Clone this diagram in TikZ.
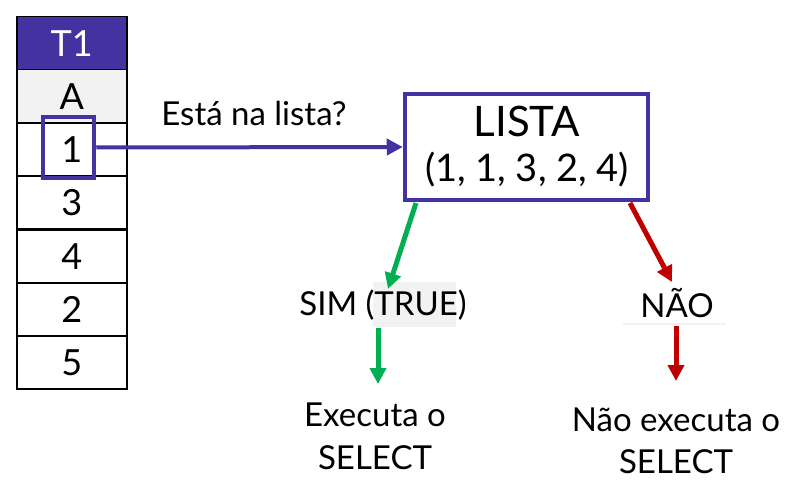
\documentclass[tikz,border=0pt]{standalone}
\usepackage{fontspec}
\setmainfont{Lato}
\usetikzlibrary{arrows.meta,calc}
\definecolor{pur}{RGB}{67,50,160}
\definecolor{grn}{RGB}{0,176,80}
\definecolor{rd}{RGB}{192,0,0}
\definecolor{lgrey}{RGB}{242,242,242}
\tikzset{
  cell/.style={draw=black, line width=1.5pt, minimum width=110pt, minimum height=53pt, inner sep=0pt, font=\fontsize{36}{40}\selectfont, anchor=north west},
  txt/.style={font=\fontsize{33}{38}\selectfont, inner sep=0pt, align=center},
  tip/.style={-{Triangle[length=16pt,width=16pt]}},
}
\begin{document}
\begin{tikzpicture}[x=1pt,y=-1pt]
\useasboundingbox (0,0) rectangle (793,495);
% table
\node[cell, fill=pur, text=white] (h) at (16,16) {T1};
\node[cell, fill=lgrey] (ca) at (16,69) {A};
\node[cell] (c1) at (16,122) {1};
\node[cell] (c2) at (16,175) {3};
\node[cell] (c3) at (16,229) {4};
\node[cell] (c4) at (16,282) {2};
\node[cell] (c5) at (16,335) {5};
% highlight
\node[draw=pur, line width=4.5pt, minimum width=51pt, minimum height=61pt, inner sep=0pt] (hl) at (68.5,147.5) {};
% lista
\node[draw=pur, line width=4.5pt, minimum width=243pt, minimum height=106pt, inner sep=0pt] (lista) at (526.5,147) {};
\node[txt, font=\fontsize{42}{46}\selectfont] (lt) at (527,121) {LISTA};
\node[txt, font=\fontsize{38}{42}\selectfont] (lv) at (527,170) {(1, 1, 3, 2, 4)};
\draw[pur, line width=4pt, tip] (hl.east) -- (lista.west);
\node[txt] (q) at (254,113) {Está na lista?};
% SIM
\node[fill=lgrey, minimum width=83pt, minimum height=45pt, inner sep=0pt] (truebg) at (414.5,304.5) {};
\node[txt] (sim) at (383,305) {SIM (TRUE)};
% NAO
\node[txt] (nao) at (677,303) {NÃO};
\coordinate (ul1) at (623,324);
\coordinate (ul2) at (726,324);
\draw[lgrey, line width=2.5pt] (ul1) -- (ul2);
% results
\node[txt] (ex1) at (375,415) {Executa o};
\node[txt] (ex2) at (375,458) {SELECT};
\node[txt] (nx1) at (676,420) {Não executa o};
\node[txt] (nx2) at (676,462) {SELECT};
% arrows
\coordinate (gs) at (416,203);
\coordinate (ge) at (388,289);
\coordinate (rs) at (630,203);
\coordinate (re) at (672,282);
\coordinate (g2s) at (378,328);
\coordinate (g2e) at (378,384);
\coordinate (r2s) at (676,326);
\coordinate (r2e) at (676,381);
\draw[grn, line width=5pt, tip] (gs) -- (ge);
\draw[rd, line width=5pt, tip] (rs) -- (re);
\draw[grn, line width=5pt, tip] (g2s) -- (g2e);
\draw[rd, line width=5pt, tip] (r2s) -- (r2e);
\end{tikzpicture}
\end{document}
